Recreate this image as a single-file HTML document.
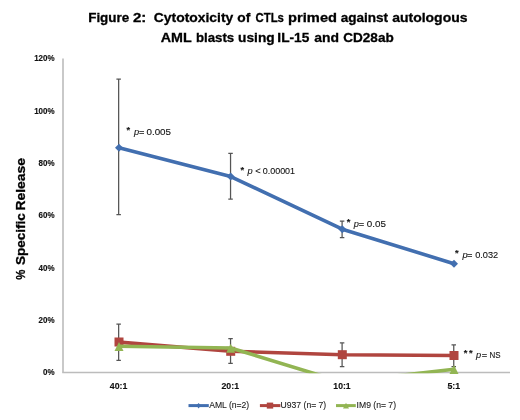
<!DOCTYPE html>
<html><head><meta charset="utf-8">
<style>
html,body{margin:0;padding:0;background:#fff;width:520px;height:420px;overflow:hidden}
svg{display:block;will-change:transform}
text{font-family:"Liberation Sans",sans-serif;white-space:pre}
.t{font-weight:bold;font-size:13.4px;fill:#000;stroke:#000;stroke-width:0.3px}
.yt{font-weight:bold;font-size:13.4px;fill:#000;stroke:#000;stroke-width:0.3px}
.tk{font-weight:bold;font-size:8.8px;fill:#111;stroke:#111;stroke-width:0.15px}
.xl{font-weight:bold;font-size:9.5px;fill:#111;stroke:#111;stroke-width:0.15px}
.an{font-size:9.3px;fill:#111;stroke:#111;stroke-width:0.1px}
.lg{font-size:8.6px;fill:#1a1a1a;stroke:#1a1a1a;stroke-width:0.1px}
</style></head>
<body>
<svg width="520" height="420" viewBox="0 0 520 420">
<!-- title -->
<g class="t">
<text x="88.2" y="22.0" textLength="41.03" lengthAdjust="spacingAndGlyphs">Figure</text>
<text x="133.04" y="22.0" textLength="13.35" lengthAdjust="spacingAndGlyphs">2:</text>
<text x="153.78" y="22.0" textLength="79.57" lengthAdjust="spacingAndGlyphs">Cytotoxicity</text>
<text x="237.39" y="22.0" textLength="13.0" lengthAdjust="spacingAndGlyphs">of</text>
<text x="255.48" y="22.0" textLength="28.44" lengthAdjust="spacingAndGlyphs">CTLs</text>
<text x="288.11" y="22.0" textLength="48.89" lengthAdjust="spacingAndGlyphs">primed</text>
<text x="340.69" y="22.0" textLength="47.45" lengthAdjust="spacingAndGlyphs">against</text>
<text x="392.18" y="22.0" textLength="75.31" lengthAdjust="spacingAndGlyphs">autologous</text>
<text x="160.77" y="41.9" textLength="30.98" lengthAdjust="spacingAndGlyphs">AML</text>
<text x="195.91" y="41.9" textLength="38.24" lengthAdjust="spacingAndGlyphs">blasts</text>
<text x="238.13" y="41.9" textLength="36.56" lengthAdjust="spacingAndGlyphs">using</text>
<text x="277.38" y="41.9" textLength="32.0" lengthAdjust="spacingAndGlyphs">IL-15</text>
<text x="314.18" y="41.9" textLength="24.76" lengthAdjust="spacingAndGlyphs">and</text>
<text x="343.19" y="41.9" textLength="50.54" lengthAdjust="spacingAndGlyphs">CD28ab</text>
</g>

<!-- y-axis title -->
<g class="yt" transform="translate(25,0) rotate(-90)">
<text x="-279.81" y="0" textLength="10.17" lengthAdjust="spacingAndGlyphs">%</text>
<text x="-265.11" y="0" textLength="51.97" lengthAdjust="spacingAndGlyphs">Specific</text>
<text x="-210.64" y="0" textLength="52.75" lengthAdjust="spacingAndGlyphs">Release</text>
</g>

<!-- tick labels -->
<g class="tk" text-anchor="end" transform="translate(54.6,0) scale(0.91,1)">
<text x="0" y="61.5">120%</text>
<text x="0" y="113.8">100%</text>
<text x="0" y="166.2">80%</text>
<text x="0" y="218.5">60%</text>
<text x="0" y="270.8">40%</text>
<text x="0" y="323.2">20%</text>
<text x="0" y="375.2">0%</text>
</g>

<!-- axes -->
<line x1="63" y1="58.5" x2="63" y2="372.5" stroke="#bcbcbc" stroke-width="1.6"/>
<line x1="62.2" y1="372.5" x2="510" y2="372.5" stroke="#bcbcbc" stroke-width="1.6"/>

<!-- x labels -->
<g class="xl">
<text x="109.77" y="388.5" textLength="17.58" lengthAdjust="spacingAndGlyphs">40:1</text>
<text x="221.47" y="388.5" textLength="17.58" lengthAdjust="spacingAndGlyphs">20:1</text>
<text x="333.35" y="388.5" textLength="17.3" lengthAdjust="spacingAndGlyphs">10:1</text>
<text x="447.47" y="388.5" textLength="12.75" lengthAdjust="spacingAndGlyphs">5:1</text>
</g>

<defs><clipPath id="pa"><rect x="63" y="50" width="450" height="323.3"/></clipPath></defs>

<!-- error bars -->
<g stroke="#555" stroke-width="1.25" fill="none">
<path d="M118.65 79.2V214.5M116.40 79.2h4.5M116.40 214.5h4.5"/>
<path d="M230.55 153.4V199.2M228.30 153.4h4.5M228.30 199.2h4.5"/>
<path d="M342.1 221.2V237.6M339.85 221.2h4.5M339.85 237.6h4.5"/>
<path d="M118.65 324.2V360.3M116.40 324.2h4.5M116.40 360.3h4.5"/>
<path d="M230.55 338.7V363.4M228.30 338.7h4.5M228.30 363.4h4.5"/>
<path d="M342.1 342.8V366.7M339.85 342.8h4.5M339.85 366.7h4.5"/>
<path d="M453.75 344.8V366.6M451.50 344.8h4.5M451.50 366.6h4.5"/>
</g>

<!-- series -->
<polyline clip-path="url(#pa)" points="119,342.1 230.7,351.3 342.3,354.7 454,355.5" fill="none" stroke="#b0453f" stroke-width="3.6" stroke-linejoin="round"/>
<g fill="#b0453f"><rect x="114.5" y="337.5" width="9" height="9"/><rect x="226.2" y="346.8" width="9" height="9"/><rect x="337.8" y="350.2" width="9" height="9"/><rect x="449.5" y="351" width="9" height="9"/></g>
<polyline clip-path="url(#pa)" points="119,346.2 230.7,348.0 342.3,382.1 454,369.2" fill="none" stroke="#92b553" stroke-width="3.6" stroke-linejoin="round"/>
<g fill="#92b553"><path d="M119 342l4.5 9h-9z"/><path d="M230.7 343.7l4.5 9h-9z"/><path d="M454 365l4.5 9h-9z"/></g>
<polyline clip-path="url(#pa)" points="119,147.7 230.7,176.6 342.3,229.2 454,263.7" fill="none" stroke="#426fb0" stroke-width="3.6" stroke-linejoin="round"/>
<g fill="#426fb0"><path d="M119 143.7l4 4l-4 4l-4-4z"/><path d="M230.7 172.6l4 4l-4 4l-4-4z"/><path d="M342.3 225.2l4 4l-4 4l-4-4z"/><path d="M454 259.7l4 4l-4 4l-4-4z"/></g>

<!-- annotations -->
<g class="an">
<text x="126.50" y="133.4" font-weight="bold">*</text>
<text x="134.00" y="134.9" font-style="italic">p</text>
<text x="139.00" y="134.9">=</text>
<text x="146.49" y="134.9" textLength="24.54" lengthAdjust="spacingAndGlyphs">0.005</text>
<text x="240.45" y="172.7" font-weight="bold">*</text>
<text x="247.45" y="174.2" font-style="italic">p</text>
<text x="255.30" y="174.2">&lt;</text>
<text x="262.76" y="174.2" textLength="32.29" lengthAdjust="spacingAndGlyphs">0.00001</text>
<text x="346.65" y="225.3" font-weight="bold">*</text>
<text x="353.85" y="226.8" font-style="italic">p</text>
<text x="358.80" y="226.8">=</text>
<text x="366.84" y="226.8" textLength="19.14" lengthAdjust="spacingAndGlyphs">0.05</text>
<text x="454.95" y="256.2" font-weight="bold">*</text>
<text x="462.45" y="257.7" font-style="italic">p</text>
<text x="466.90" y="257.7">=</text>
<text x="475.15" y="257.7" textLength="23.06" lengthAdjust="spacingAndGlyphs">0.032</text>
<text x="463.65" y="356.3" font-weight="bold">*</text>
<text x="469.05" y="356.3" font-weight="bold">*</text>
<text x="476.05" y="357.8" font-style="italic">p</text>
<text x="481.80" y="357.8">=</text>
<text x="489.46" y="357.8" textLength="11.11" lengthAdjust="spacingAndGlyphs">NS</text>
</g>

<!-- legend -->
<g>
<line x1="188.5" y1="405.6" x2="208.8" y2="405.6" stroke="#426fb0" stroke-width="3"/>
<path d="M198.6 403l2.2 2.6l-2.2 2.8l-2.2-2.8z" fill="#426fb0"/>
<text class="lg" x="209.2" y="408.4">AML (n=2)</text>
<line x1="259.9" y1="405.6" x2="280.4" y2="405.6" stroke="#b0453f" stroke-width="3"/>
<rect x="266.8" y="402.6" width="6.4" height="6" fill="#b0453f"/>
<text class="lg" x="280.6" y="408.4">U937 (n= 7)</text>
<line x1="336" y1="405.6" x2="355.8" y2="405.6" stroke="#92b553" stroke-width="3"/>
<path d="M346 402.8l3 5.8h-6z" fill="#92b553"/>
<text class="lg" x="356.6" y="408.4">IM9 (n= 7)</text>
</g>
</svg>
</body></html>
